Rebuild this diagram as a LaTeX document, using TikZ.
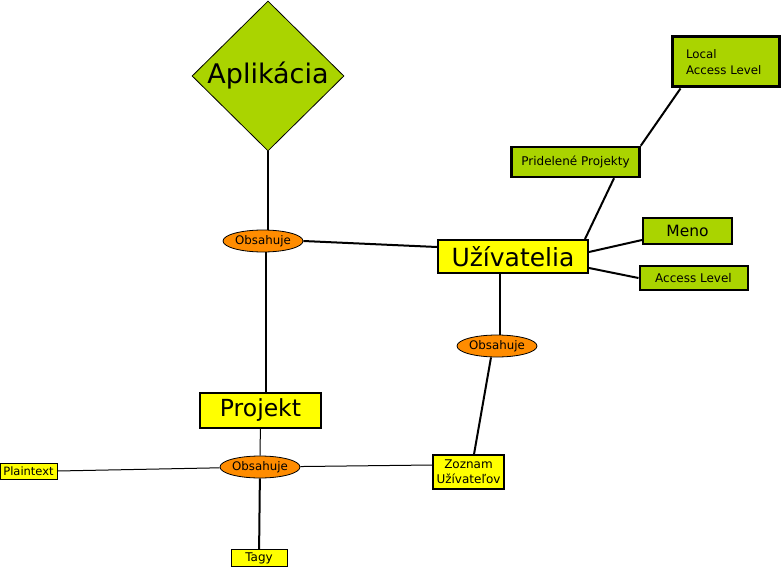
\documentclass[tikz,border=0pt]{standalone}
\usepackage{fontspec}
\setmainfont{DejaVu Sans}
\usepackage{tikz}
\usetikzlibrary{shapes.geometric, positioning, backgrounds}
\definecolor{leafgreen}{HTML}{AAD400}
\definecolor{boxyellow}{HTML}{FFFF00}
\definecolor{relorange}{HTML}{FF8C00}

\begin{document}
\begin{tikzpicture}[x=1pt, y=-1pt]
    \tikzstyle{entity} = [rectangle, draw=black, fill=boxyellow, inner sep=0pt, text centered, line width=2pt]
    \tikzstyle{attrib} = [rectangle, draw=black, fill=leafgreen, inner sep=0pt, text centered, line width=2pt]
    \tikzstyle{relation} = [ellipse, draw=black, fill=relorange, minimum width=80pt, minimum height=22pt, inner sep=0pt, line width=0.8pt, font=\fontsize{11.8}{13}\selectfont]
    \tikzstyle{link} = [line width=2pt]
    \tikzstyle{thinlink} = [line width=1pt]

    \useasboundingbox (0,0) rectangle (781,567);

    \node (app) [diamond, draw=black, fill=leafgreen, minimum width=152pt, minimum height=150pt, inner sep=0pt, line width=0.8pt, font=\fontsize{27}{30}\selectfont] at (268,76) {Aplikácia};
    \node (rel1) [relation] at (263,241) {Obsahuje};
    \node (users) [entity, minimum width=150pt, minimum height=33pt, font=\fontsize{25}{28}\selectfont] at (513,256.5) {Užívatelia};
    \node (prid) [attrib, minimum width=128pt, minimum height=30pt, line width=2.5pt, font=\fontsize{12}{14}\selectfont] at (575.5,162) {Pridelené Projekty};
    \node (local) [attrib, minimum height=50pt, text width=79pt, inner xsep=14pt, align=left, line width=3pt, font=\fontsize{11.8}{15.5}\selectfont] at (725.5,62) {Local\\Access Level};
    \node (meno) [attrib, minimum width=89pt, minimum height=26pt, font=\fontsize{15.5}{18}\selectfont] at (687.5,231) {Meno};
    \node (access) [attrib, minimum width=108pt, minimum height=24pt, font=\fontsize{12}{14}\selectfont] at (693.5,278) {Access Level};
    \node (rel2) [relation] at (497,346) {Obsahuje};
    \node (projekt) [entity, minimum width=121pt, minimum height=35pt, font=\fontsize{23.5}{26}\selectfont] at (260.5,410.5) {Projekt};
    \node (rel3) [relation] at (260,467) {Obsahuje};
    \node (plain) [entity, minimum width=57pt, minimum height=16pt, line width=1pt, font=\fontsize{11.5}{13}\selectfont] at (28.5,471) {Plaintext};
    \node (tagy) [entity, minimum width=56pt, minimum height=17pt, line width=1pt, font=\fontsize{12}{14}\selectfont] at (259,558) {Tagy};
    \node (zoznam) [entity, minimum width=71pt, minimum height=34pt, line width=1.5pt, align=center, font=\fontsize{12}{15}\selectfont] at (468.5,472) {Zoznam\\Užívateľov};

    \begin{scope}[on background layer]
      \draw [link] (app.south) -- (app.south |- rel1.north);
      \draw [link] ([xshift=3pt]rel1.south) -- ([xshift=3pt]rel1.south |- projekt.north);
      \draw [link] (rel1.east) -- ([yshift=9.5pt]users.west);
      \draw [link] ([xshift=3pt]rel2.north) -- ([xshift=3pt]rel2.north |- users.south);
      \draw [link] ([xshift=-6pt]rel2.south) -- ([xshift=5.5pt]zoznam.north);
      \draw [link] ([xshift=-4pt]users.north east) -- ([xshift=38.5pt]prid.south);
      \draw [link] (prid.north east) -- ([xshift=10pt]local.south west);
      \draw [link] ([yshift=4.5pt]users.east) -- ([yshift=-9pt]meno.west);
      \draw [link] ([yshift=-11.5pt]users.east) -- (access.west);
      \draw [thinlink] (projekt) -- (rel3);
      \draw [thinlink] (rel3) -- (plain.east);
      \draw [thinlink] (rel3) -- ([yshift=7pt]zoznam.west);
      \draw [link] (rel3) -- (tagy);
    \end{scope}
\end{tikzpicture}
\end{document}
